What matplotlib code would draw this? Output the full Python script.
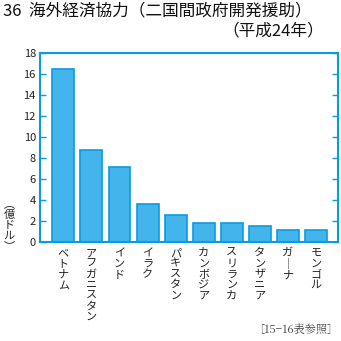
import matplotlib
matplotlib.use("Agg")
import matplotlib.pyplot as plt

plt.rcParams['font.family'] = ['Noto Sans CJK JP', 'DejaVu Sans']

categories = ["ベトナム", "アフガニスタン", "インド", "イラク", "パキスタン",
              "カンボジア", "スリランカ", "タンザニア", "ガ｜ナ", "モンゴル"]
values = [16.5, 8.8, 7.1, 3.6, 2.6, 1.8, 1.8, 1.5, 1.1, 1.1]
yticks = [0, 2, 4, 6, 8, 10, 12, 14, 16, 18]

blue_edge = "#0a9be3"
blue_fill = "#44b4ec"

fig = plt.figure(figsize=(3.41, 3.41), dpi=100)
ax = fig.add_axes([40/341, 1 - 242/341, 298/341, 189/341])
x = list(range(len(values)))
ax.bar(x, values, width=0.78, color=blue_fill, edgecolor=blue_edge, linewidth=1.2)
ax.set_xlim(-0.83, 9.78)
ax.set_ylim(0, 18)
ax.set_yticks(yticks)
ax.set_yticklabels([str(t) for t in yticks], fontsize=8, color="#222222")
ax.set_xticks([])
ax.tick_params(axis='y', direction='in', length=4, width=1, color=blue_edge,
               right=True, left=True, pad=3)
for s in ax.spines.values():
    s.set_color(blue_edge)
    s.set_linewidth(1.5)

for i, c in enumerate(categories):
    ax.text(i, -0.6, "\n".join(c), transform=ax.transData, ha='center', va='top',
            fontsize=8, linespacing=1.08, color="#222222")

fig.text(3/341, 1 - 11/341, "36  海外経済協力（二国間政府開発援助）", fontsize=12,
         ha='left', va='center', color="#111111")
fig.text(324/341, 1 - 31/341, "（平成24年）", fontsize=12,
         ha='right', va='center', color="#111111")
fig.text(9/341, 1 - 225/341, "︵\n億\nド\nル\n︶", fontsize=8, ha='center', va='center',
         linespacing=1.05, color="#222222")
fig.text(338/341, 1 - 330/341, "［15−16表参照］", fontsize=8, ha='right', va='center',
         color="#444444", family=['Noto Serif CJK JP', 'Noto Sans CJK JP', 'DejaVu Sans'])

fig.savefig("out.png", dpi=100)
